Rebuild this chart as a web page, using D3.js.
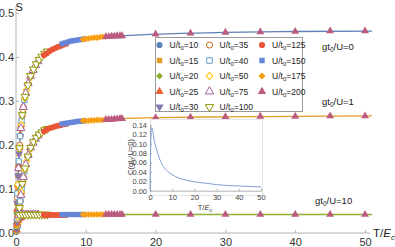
<!DOCTYPE html>
<meta charset="utf-8">
<style>
    body { margin: 0; background: #fff; }
    text { font-family: "Liberation Sans", Arial, sans-serif; }
    .tick text { font-size: 11px; fill: #333; }
    .inset .tick text { font-size: 7.5px; fill: #444; }
    .lbl { font-size: 9.5px; fill: #222; }
    .leg { font-size: 8.5px; fill: #222; }
</style>
<svg width="395" height="247"></svg>
<script src="https://d3js.org/d3.v7.min.js"></script>
<script>

    // legend / series definitions
    var uValues = [10, 15, 20, 25, 30, 35, 40, 50, 75, 100, 125, 150, 175, 200];
    var seriesColors = ["#5E81B5", "#E19C24", "#8FB032", "#EB6235", "#8778B3",
        "#C56E1A", "#5D9EC7", "#FFBF00", "#A5609D", "#929600",
        "#E95536", "#6685D9", "#F89F13", "#BC5B80"];
    var seriesShapes = ["circle", "square", "diamond", "triangle", "down",
        "circle", "square", "diamond", "triangle", "down",
        "circle", "square", "diamond", "triangle"];
    var seriesOpen = [false, false, false, false, false,
        true, true, true, true, true,
        false, false, false, false];

    // T/E_c of the points of every series
    var seriesT = [
        [0.05, 0.1, 0.15, 0.2, 0.25, 0.3],
        [0.08, 0.15, 0.22, 0.3, 0.38, 0.45],
        [0.1, 0.2, 0.3, 0.4, 0.5, 0.6],
        [0.12, 0.25, 0.38, 0.5, 0.62, 0.75],
        [0.15, 0.3, 0.45, 0.6, 0.75, 0.9],
        [0.18, 0.35, 0.52, 0.7, 0.88, 1.05],
        [0.2, 0.4, 0.6, 0.8, 1.0, 1.2],
        [0.25, 0.5, 0.75, 1.0, 1.25, 1.5, 1.75, 2.0],
        [0.35, 0.7, 1.05, 1.4, 1.75, 2.1, 2.45, 2.8, 3.15],
        [0.5, 0.9, 1.3, 1.7, 2.1, 2.5, 2.9, 3.3, 3.7, 4.1, 4.5],
        [4.0, 4.4, 4.8, 5.2, 5.6, 6.0, 6.4, 6.8, 7.2],
        [6.6, 7.0, 7.4, 7.8, 8.2, 8.6, 9.0, 9.4, 9.8],
        [9.6, 10.0, 10.4, 10.8, 11.2, 11.6, 12.0, 12.4, 12.8],
        [12.9, 13.3, 13.7, 14.1, 14.5, 14.9, 15.2, 20, 25, 30, 35, 40, 45, 50]
    ];

    // S for gt0/U = 0
    var seriesS0 = [
        [0.022, 0.045, 0.068, 0.09, 0.11, 0.13],
        [0.036, 0.068, 0.098, 0.13, 0.157, 0.18],
        [0.045, 0.09, 0.13, 0.163, 0.193, 0.22],
        [0.054, 0.11, 0.157, 0.193, 0.224, 0.246],
        [0.068, 0.13, 0.18, 0.22, 0.246, 0.268],
        [0.081, 0.147, 0.2, 0.238, 0.265, 0.286],
        [0.09, 0.163, 0.22, 0.255, 0.28, 0.302],
        [0.11, 0.193, 0.246, 0.28, 0.306, 0.325, 0.34, 0.353],
        [0.147, 0.238, 0.286, 0.318, 0.34, 0.357, 0.37, 0.381, 0.39],
        [0.193, 0.268, 0.31, 0.336, 0.357, 0.372, 0.384, 0.394, 0.401, 0.408, 0.413],
        [0.404, 0.408, 0.413, 0.417, 0.42, 0.423, 0.425, 0.428, 0.43],
        [0.43, 0.432, 0.434, 0.436, 0.437, 0.438, 0.439, 0.44, 0.441],
        [0.44, 0.441, 0.442, 0.443, 0.444, 0.444, 0.445, 0.446, 0.446],
        [0.446, 0.446, 0.447, 0.447, 0.448, 0.448, 0.448, 0.452, 0.454, 0.456, 0.457, 0.458, 0.459, 0.459]
    ];

    // S for gt0/U = 1
    var seriesS1 = [
        [0.002, 0.005, 0.01, 0.015, 0.022, 0.03],
        [0.004, 0.01, 0.018, 0.03, 0.041, 0.05],
        [0.005, 0.015, 0.03, 0.043, 0.057, 0.072],
        [0.007, 0.022, 0.041, 0.057, 0.075, 0.093],
        [0.01, 0.03, 0.05, 0.072, 0.093, 0.112],
        [0.013, 0.037, 0.06, 0.086, 0.109, 0.127],
        [0.015, 0.043, 0.072, 0.1, 0.123, 0.14],
        [0.022, 0.057, 0.093, 0.123, 0.144, 0.163, 0.177, 0.19],
        [0.037, 0.086, 0.127, 0.156, 0.177, 0.194, 0.205, 0.214, 0.221],
        [0.057, 0.112, 0.147, 0.174, 0.194, 0.207, 0.217, 0.224, 0.229, 0.234, 0.237],
        [0.231, 0.235, 0.238, 0.24, 0.242, 0.244, 0.245, 0.247, 0.248],
        [0.248, 0.249, 0.25, 0.251, 0.252, 0.253, 0.254, 0.254, 0.255],
        [0.255, 0.255, 0.255, 0.256, 0.256, 0.257, 0.257, 0.257, 0.258],
        [0.258, 0.258, 0.258, 0.259, 0.259, 0.26, 0.26, 0.262, 0.263, 0.264, 0.265, 0.265, 0.266, 0.266]
    ];

    // S for gt0/U = 10
    var seriesS2 = [
        [0.012, 0.022, 0.028, 0.033, 0.036, 0.039],
        [0.015, 0.024, 0.029, 0.032, 0.034, 0.035],
        [0.022, 0.033, 0.039, 0.04, 0.041, 0.042],
        [0.022, 0.028, 0.031, 0.033, 0.034, 0.035],
        [0.026, 0.034, 0.037, 0.038, 0.039, 0.039],
        [0.031, 0.04, 0.041, 0.042, 0.042, 0.042],
        [0.033, 0.04, 0.042, 0.042, 0.042, 0.042],
        [0.036, 0.041, 0.042, 0.042, 0.042, 0.042, 0.042, 0.042],
        [0.04, 0.042, 0.042, 0.042, 0.042, 0.042, 0.042, 0.042, 0.042],
        [0.041, 0.042, 0.042, 0.042, 0.042, 0.042, 0.042, 0.042, 0.042, 0.042, 0.042],
        [0.041, 0.041, 0.041, 0.041, 0.041, 0.041, 0.041, 0.041, 0.041],
        [0.042, 0.042, 0.042, 0.042, 0.042, 0.042, 0.042, 0.042, 0.042],
        [0.042, 0.042, 0.042, 0.042, 0.042, 0.042, 0.042, 0.042, 0.042],
        [0.042, 0.042, 0.042, 0.042, 0.042, 0.042, 0.042, 0.042, 0.042, 0.042, 0.042, 0.042, 0.042, 0.042]
    ];

    // fitted curves
    var lineT = [0, 0.1, 0.2, 0.3, 0.45, 0.6, 0.8, 1.0, 1.2, 1.5, 2.0, 2.5, 3.0, 3.5, 4, 5, 6, 7, 8, 10, 12, 15, 20, 30, 40, 51];
    var lineS0 = [0, 0.045, 0.09, 0.13, 0.18, 0.22, 0.255, 0.28, 0.302, 0.325, 0.353, 0.372, 0.387, 0.398, 0.407, 0.418, 0.426, 0.432, 0.436, 0.441, 0.445, 0.448, 0.452, 0.456, 0.458, 0.459];
    var lineS1 = [0, 0.005, 0.015, 0.03, 0.05, 0.072, 0.1, 0.123, 0.14, 0.163, 0.19, 0.207, 0.219, 0.227, 0.233, 0.241, 0.246, 0.249, 0.252, 0.255, 0.257, 0.26, 0.262, 0.264, 0.265, 0.266];
    var lineS2 = [0, 0.022, 0.033, 0.039, 0.041, 0.042, 0.042, 0.042, 0.042, 0.042, 0.042, 0.042, 0.042, 0.042, 0.042, 0.042, 0.042, 0.042, 0.042, 0.042, 0.042, 0.042, 0.042, 0.042, 0.042, 0.042];
    var lineColors = ["#5E81B5", "#E19C24", "#8FB032"];
    var curveNames = ["0", "1", "10"];

    // inset: C(gt0/U=0) vs T/E_c
    var insetT = [0, 0.3, 0.7, 1, 1.5, 2, 3, 4, 5, 6, 8, 10, 12, 15, 20, 25, 30, 35, 40, 45, 50];
    var insetC = [0, 0.09, 0.135, 0.132, 0.12, 0.105, 0.088, 0.072, 0.06, 0.052, 0.041, 0.034, 0.029, 0.024, 0.019, 0.016, 0.013, 0.011, 0.01, 0.009, 0.008];

    var xTicks = [0, 10, 20, 30, 40, 50];
    var yTicks = [0, 0.1, 0.2, 0.3, 0.4, 0.5];
    var insetXTicks = [0, 10, 20, 30, 40, 50];
    var insetYTicks = [0, 0.02, 0.04, 0.06, 0.08, 0.1, 0.12, 0.14];

    var svg = d3.select("svg");
    var x = d3.scaleLinear().domain([0, 50]).range([16, 365]);
    var y = d3.scaleLinear().domain([0, 0.5]).range([233, 13]);
    var axisColor = "#b3b3b3";

    // axes
    svg.append("g").attr("transform", "translate(0," + y(0) + ")")
        .call(d3.axisBottom(x).tickValues(xTicks).tickSize(-3).tickPadding(5));
    svg.append("g").attr("transform", "translate(" + x(0) + ",0)")
        .call(d3.axisLeft(y).tickValues(yTicks).tickFormat(d3.format(".1f")).tickSize(-3).tickPadding(2));
    svg.selectAll(".domain").remove();
    svg.selectAll(".tick line").attr("stroke", axisColor);
    svg.append("line").attr("x1", x(0)).attr("x2", 370).attr("y1", y(0)).attr("y2", y(0)).attr("stroke", axisColor);
    svg.append("line").attr("x1", x(0)).attr("x2", x(0)).attr("y1", y(0)).attr("y2", 6).attr("stroke", axisColor);

    svg.append("text").attr("x", 15.5).attr("y", 10.5).style("font-size", "11px").attr("fill", "#222").text("S");
    var tl = svg.append("text").attr("x", 373).attr("y", 237).style("font-size", "11.5px").attr("fill", "#222");
    tl.append("tspan").text("T/");
    tl.append("tspan").style("font-style", "italic").text("E");
    tl.append("tspan").attr("dy", 2.5).style("font-size", "8px").style("font-style", "italic").text("c");

    // fitted lines
    var lineS = [lineS0, lineS1, lineS2];
    var line = d3.line().curve(d3.curveMonotoneX)
        .x(function (d) { return x(d[0]); })
        .y(function (d) { return y(d[1]); });
    lineS.forEach(function (s, k) {
        svg.append("path")
            .datum(lineT.map(function (t, i) { return [t, s[i]]; }))
            .attr("fill", "none")
            .attr("stroke", lineColors[k])
            .attr("stroke-width", 1.3)
            .attr("d", line);
    });

    function symbolPath(shape, size) {
        if (shape === "circle") return d3.symbol(d3.symbolCircle, size)();
        if (shape === "square") return d3.symbol(d3.symbolSquare, size)();
        if (shape === "diamond") return d3.symbol(d3.symbolSquare, size * 0.8)();
        return d3.symbol(d3.symbolTriangle, size)();
    }
    function symbolRot(shape) {
        if (shape === "diamond") return 45;
        if (shape === "down") return 180;
        return 0;
    }
    function drawMark(g, i, px, py, size) {
        g.append("path")
            .attr("d", symbolPath(seriesShapes[i], size))
            .attr("transform", "translate(" + px + "," + py + ") rotate(" + symbolRot(seriesShapes[i]) + ")")
            .attr("fill", seriesOpen[i] ? "#fff" : seriesColors[i])
            .attr("stroke", seriesOpen[i] ? seriesColors[i] : "none")
            .attr("stroke-width", 1);
    }

    // data points
    var pts = svg.append("g");
    var seriesS = [seriesS0, seriesS1, seriesS2];
    seriesS.forEach(function (ss) {
        uValues.forEach(function (u, i) {
            seriesT[i].forEach(function (t, j) {
                drawMark(pts, i, x(t), y(ss[i][j]), 27);
            });
        });
    });

    // curve labels
    var labelPos = [[322, 50], [322, 105], [315, 204]];
    curveNames.forEach(function (n, k) {
        var t = svg.append("text").attr("class", "lbl").attr("x", labelPos[k][0]).attr("y", labelPos[k][1]);
        t.append("tspan").text("gt");
        t.append("tspan").attr("dy", 2).style("font-size", "6.5px").text("0");
        t.append("tspan").attr("dy", -2).text("/U=" + n);
    });

    // legend
    var leg = svg.append("g");
    leg.append("rect").attr("x", 155.5).attr("y", 37.5).attr("width", 147).attr("height", 74)
        .attr("fill", "#fff").attr("stroke", "#999").attr("stroke-width", 1);
    var legColX = [159.5, 209.5, 262];
    var legRowY = [45, 60.5, 76, 91.5, 107];
    uValues.forEach(function (u, i) {
        var cx = legColX[Math.floor(i / 5)], cy = legRowY[i % 5];
        drawMark(leg, i, cx, cy, 30);
        var t = leg.append("text").attr("class", "leg").attr("x", cx + 10).attr("y", cy + 3);
        t.append("tspan").text("U/t");
        t.append("tspan").attr("dy", 2).style("font-size", "6px").text("0");
        t.append("tspan").attr("dy", -2).text("=" + u);
    });

    // inset
    var ix = d3.scaleLinear().domain([0, 50]).range([150, 261]);
    var iy = d3.scaleLinear().domain([0, 0.14]).range([190.7, 125]);
    var inset = svg.append("g").attr("class", "inset");
    inset.append("rect").attr("x", 150.5).attr("y", 119.5).attr("width", 112).attr("height", 76)
        .attr("fill", "#fff").attr("stroke", "#e3e3e3");
    inset.append("g").attr("transform", "translate(0," + iy(0) + ")")
        .call(d3.axisBottom(ix).tickValues(insetXTicks).tickSize(-2).tickPadding(4));
    inset.append("g").attr("transform", "translate(" + ix(0) + ",0)")
        .call(d3.axisLeft(iy).tickValues(insetYTicks).tickFormat(d3.format(".2f")).tickSize(-2).tickPadding(3));
    inset.selectAll(".domain").attr("stroke", axisColor);
    inset.selectAll(".tick line").attr("stroke", axisColor);
    inset.append("path")
        .datum(insetT.map(function (t, i) { return [t, insetC[i]]; }))
        .attr("fill", "none").attr("stroke", "#7f9fd3").attr("stroke-width", 1)
        .attr("d", d3.line().curve(d3.curveMonotoneX)
            .x(function (d) { return ix(d[0]); })
            .y(function (d) { return iy(d[1]); }));
    var itl = inset.append("text").attr("x", 205).attr("y", 210).attr("text-anchor", "middle")
        .style("font-size", "7.5px").attr("fill", "#333");
    itl.append("tspan").text("T/");
    itl.append("tspan").style("font-style", "italic").text("E");
    itl.append("tspan").attr("dy", 2).style("font-size", "5.5px").style("font-style", "italic").text("c");
    var iyl = inset.append("text").attr("transform", "translate(133,157) rotate(-90)")
        .attr("text-anchor", "middle").style("font-size", "7.5px").attr("fill", "#333");
    iyl.append("tspan").text("C(gt");
    iyl.append("tspan").attr("dy", 2).style("font-size", "5.5px").text("0");
    iyl.append("tspan").attr("dy", -2).text("/U=0)");

</script>
